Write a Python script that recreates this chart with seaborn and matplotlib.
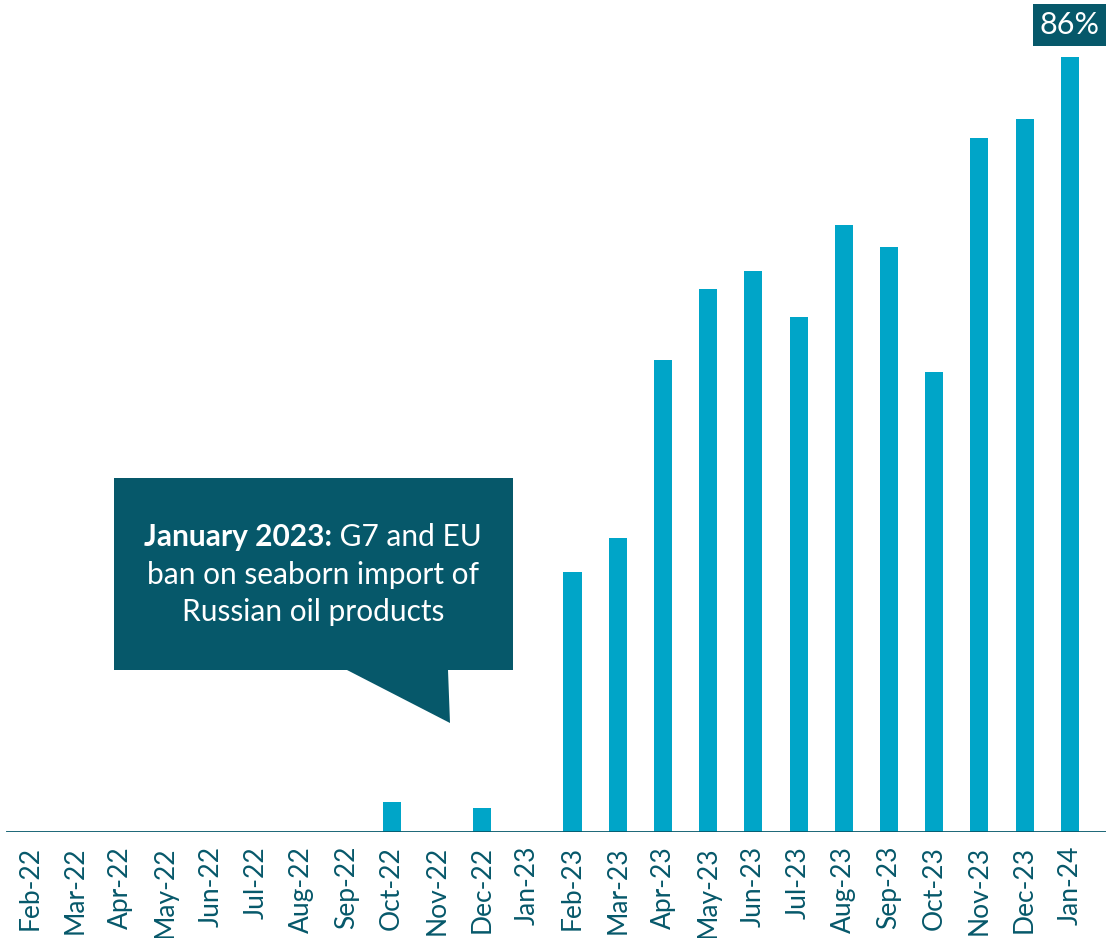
import matplotlib
matplotlib.use("Agg")
import matplotlib.pyplot as plt
from matplotlib.patches import Polygon
import seaborn as sns
import pandas as pd

# Share of Russian oil-product exports (percent), by month
months = ["Feb-22", "Mar-22", "Apr-22", "May-22", "Jun-22", "Jul-22", "Aug-22",
          "Sep-22", "Oct-22", "Nov-22", "Dec-22", "Jan-23", "Feb-23", "Mar-23",
          "Apr-23", "May-23", "Jun-23", "Jul-23", "Aug-23", "Sep-23", "Oct-23",
          "Nov-23", "Dec-23", "Jan-24"]
shares = [0, 0, 0, 0, 0, 0, 0, 0, 3.3, 0, 2.7, 0, 28.8, 32.6,
          52.4, 60.2, 62.3, 57.1, 67.4, 64.9, 51.0, 77.0, 79.1, 86]

BAR = "#00A5C8"
DARK = "#06586A"

sns.set_theme(style="white")
plt.rcParams["font.family"] = ["Lato", "DejaVu Sans"]

W, H = 1106, 938
fig = plt.figure(figsize=(W / 100, H / 100), dpi=100)
ax = fig.add_axes([6 / W, (H - 832) / H, 1 - 6 / W, 832 / H])

df = pd.DataFrame({"month": months, "share": shares})
sns.barplot(data=df, x="month", y="share", color=BAR, saturation=1,
            width=0.4, ax=ax, linewidth=0)

ax.set_xlim(-0.53, 23.8)
ax.set_ylim(0, 86 * 832 / 775)
ax.axhline(0, color=DARK, lw=2.0, zorder=5)
for s in ax.spines.values():
    s.set_visible(False)
ax.set_yticks([])
ax.set_xlabel("")
ax.set_ylabel("")
ax.tick_params(axis="x", length=0, pad=10, labelsize=19, labelcolor=DARK)
for lbl in ax.get_xticklabels():
    lbl.set_rotation(90)
    lbl.set_va("top")
    lbl.set_ha("center")

# Value label on the latest bar
last = len(shares) - 1
ax.annotate(f"{shares[last]:.0f}%", xy=(last, shares[last]),
            xytext=(0, 23), textcoords="offset points",
            ha="center", va="center", fontsize=22, color="white",
            bbox=dict(boxstyle="square,pad=0.22", fc=DARK, ec="none"),
            annotation_clip=False, zorder=6)

# Callout box with pointer
def px(x, y):
    return (x / W, 1 - y / H)

callout = Polygon([px(114, 478), px(513, 478), px(513, 670), px(448, 670),
                   px(450, 723), px(347, 670), px(114, 670)],
                  closed=True, transform=fig.transFigure, fc=DARK, ec="none",
                  zorder=10)
fig.patches.append(callout)

fs = 21.5
renderer = fig.canvas.get_renderer()
bold_part = "January 2023:"
plain_part = " G7 and EU"
t_bold = fig.text(0, 0, bold_part, fontsize=fs, fontweight="bold",
                  color="white", zorder=11)
t_plain = fig.text(0, 0, plain_part, fontsize=fs, color="white", zorder=11)
wb = t_bold.get_window_extent(renderer).width
wp = t_plain.get_window_extent(renderer).width
cx = 313
x0 = cx - (wb + wp) / 2
t_bold.set_position(px(x0, 537))
t_bold.set_va("center")
t_plain.set_position(px(x0 + wb, 537))
t_plain.set_va("center")
fig.text(*px(cx, 575), "ban on seaborn import of", fontsize=fs, color="white",
         ha="center", va="center", zorder=11)
fig.text(*px(cx, 612), "Russian oil products", fontsize=fs, color="white",
         ha="center", va="center", zorder=11)

fig.savefig("out.png", dpi=100)
